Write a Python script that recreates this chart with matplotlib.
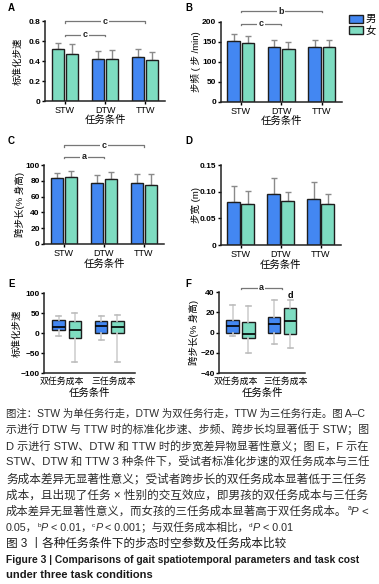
import numpy as np
import matplotlib
matplotlib.use("Agg")
from matplotlib import pyplot as plt
from matplotlib.transforms import IdentityTransform, ScaledTranslation

plt.rcParams['font.family'] = ['Liberation Sans', 'Noto Sans CJK SC', 'DejaVu Sans']

# ---- data ----
conds = ["STW", "DTW", "TTW"]
speed_m = [0.52, 0.42, 0.44]
speed_m_sd = [0.06, 0.08, 0.085]
speed_f = [0.47, 0.42, 0.41]
speed_f_sd = [0.10, 0.095, 0.085]

cad_m = [152, 137, 137]
cad_m_sd = [18, 19, 18]
cad_f = [147, 132, 137]
cad_f_sd = [19, 18, 19]

stride_m = [84, 77, 77]
stride_m_sd = [6, 10, 12]
stride_f = [85, 82, 75]
stride_f_sd = [8, 9, 13]

width_m = [0.081, 0.095, 0.087]
width_m_sd = [0.030, 0.030, 0.031]
width_f = [0.076, 0.082, 0.077]
width_f_sd = [0.026, 0.018, 0.019]

cost_cats = ["双任务成本", "三任务成本"]
# box stats: whislo, q1, med, q3, whishi
e_m = [[-8, 7, 16, 32, 43], [-18, 0, 17, 30, 43]]
e_f = [[-72, -12, 8, 30, 50], [-72, 0, 14, 30, 46]]
f_m = [[-3, 0, 6, 12, 27], [-11, 0, 8, 15, 32]]
f_f = [[-20, -5, -1, 10, 26], [-15, -1, 11, 24, 32]]

BLUE = "#4387f2"
GREEN = "#7edcc1"
EDGE = "#1e1e1e"
W, H = 379, 584

fig = plt.figure(figsize=(W / 100, H / 100), dpi=100)


def add_ax(left, top, w, h):
    return fig.add_axes([left / W, 1 - (top + h) / H, w / W, h / H])


def style(ax, w, h, ylab, ylab_dx, xlab_dy):
    for s in ["top", "right"]:
        ax.spines[s].set_visible(False)
    for s in ["left", "bottom"]:
        ax.spines[s].set_linewidth(1.1)
        ax.spines[s].set_color("#222222")
    ax.tick_params(axis="y", length=2, width=1, pad=1, labelsize=6)
    ax.tick_params(axis="x", length=2, width=1, pad=1.5, labelsize=6.5)
    for t in ax.get_yticklabels():
        t.set_fontweight("bold")
    ax.set_ylabel(ylab, fontsize=6.8)
    ax.yaxis.set_label_coords(-ylab_dx / w, 0.5)
    ax.set_xlabel("任务条件", fontsize=7.5)
    ax.xaxis.set_label_coords(0.5, -xlab_dy / h)


def bars(ax, m, msd, f, fsd, first_color=None):
    x = np.arange(len(conds))
    cm = [BLUE] * len(conds)
    if first_color:
        cm[0] = first_color
    bm = ax.bar(x - 0.175, m, 0.31, color=cm, edgecolor=EDGE, linewidth=1, zorder=2)
    bf = ax.bar(x + 0.175, f, 0.31, color=GREEN, edgecolor=EDGE, linewidth=1, zorder=2)
    ax.errorbar(x - 0.175, m, yerr=[np.zeros(3), msd], fmt="none", ecolor="#8a8a8a",
                elinewidth=1, capsize=2.5, capthick=1, zorder=1)
    ax.errorbar(x + 0.175, f, yerr=[np.zeros(3), fsd], fmt="none", ecolor="#8a8a8a",
                elinewidth=1, capsize=2.5, capthick=1, zorder=1)
    ax.set_xticks(x)
    ax.set_xticklabels(conds)
    ax.set_xlim(-0.5, 2.5)
    return bm, bf


def bracket(ax, x1, x2, y, tick, label):
    ax.plot([x1, x1, x2, x2], [y - tick, y, y, y - tick], color="#777777", lw=0.9,
            clip_on=False)
    ax.text((x1 + x2) / 2, y, label, ha="center", va="center", fontsize=6.5,
            fontweight="bold", color="#222222",
            bbox=dict(boxstyle="square,pad=0.15", fc="white", ec="none"))


def boxes(ax, m, f):
    pos = np.arange(len(cost_cats))
    for stats, off, col in [(m, -0.19, BLUE), (f, 0.19, GREEN)]:
        st = [dict(whislo=s[0], q1=s[1], med=s[2], q3=s[3], whishi=s[4], fliers=[])
              for s in stats]
        ax.bxp(st, positions=pos + off, widths=0.3, patch_artist=True, showfliers=False,
               boxprops=dict(facecolor=col, edgecolor=EDGE, linewidth=1),
               medianprops=dict(color="black", linewidth=1.2),
               whiskerprops=dict(color="#cfcfcf", linewidth=1.2),
               capprops=dict(color="#bdbdbd", linewidth=1.2),
               capwidths=0.12, manage_ticks=False)
    ax.set_xticks(pos)
    ax.set_xticklabels(cost_cats)


# A
axA = add_ax(45, 21, 120, 80)
bars(axA, speed_m, speed_m_sd, speed_f, speed_f_sd, first_color=GREEN)
axA.set_ylim(0, 0.8)
axA.set_yticks([0, 0.2, 0.4, 0.6, 0.8])
axA.set_yticklabels(["0", "0.2", "0.4", "0.6", "0.8"])
style(axA, 120, 80, "标准化步速", 22, 14)
bracket(axA, 0, 2, 0.8, 0.015, "c")
bracket(axA, 0, 1, 0.665, 0.015, "c")

# B
axB = add_ax(220.5, 22, 121.5, 80)
bmB, bfB = bars(axB, cad_m, cad_m_sd, cad_f, cad_f_sd)
axB.set_ylim(0, 200)
axB.set_yticks([0, 50, 100, 150, 200])
style(axB, 121.5, 80, "步频 ( 步 /min)", 20, 14)
bracket(axB, 0, 2, 227, 3, "b")
bracket(axB, 0, 1, 196, 3, "c")
axB.legend([bmB, bfB], ["男", "女"], loc="upper left", bbox_to_anchor=(344 / W, 1 - 9 / H),
           bbox_transform=fig.transFigure, frameon=False, fontsize=7.5,
           handlelength=1.3, handleheight=0.8, borderpad=0, labelspacing=0.15,
           handletextpad=0.3)

# C
axC = add_ax(44, 165, 120, 79)
bars(axC, stride_m, stride_m_sd, stride_f, stride_f_sd)
axC.set_ylim(0, 100)
axC.set_yticks([0, 20, 40, 60, 80, 100])
style(axC, 120, 79, "跨步长(% 身高)", 19, 15)
bracket(axC, 0, 2, 125, 2, "c")
bracket(axC, 0, 1, 110.5, 2, "a")

# D
axD = add_ax(220.5, 165, 120, 80)
bars(axD, width_m, width_m_sd, width_f, width_f_sd)
axD.set_ylim(0, 0.15)
axD.set_yticks([0, 0.05, 0.10, 0.15])
axD.set_yticklabels(["0", "0.05", "0.10", "0.15"])
style(axD, 120, 80, "步宽 (m)", 20, 15)

# E
axE = add_ax(44, 293, 91, 80)
boxes(axE, e_m, e_f)
axE.set_xlim(-0.54, 1.61)
axE.set_ylim(-100, 100)
axE.set_yticks([-100, -50, 0, 50, 100])
style(axE, 91, 80, "标准化步速", 22, 15)

# F
axF = add_ax(219, 292, 86, 81)
boxes(axF, f_m, f_f)
axF.set_xlim(-0.52, 1.55)
axF.set_ylim(-40, 40)
axF.set_yticks([-40, -20, 0, 20, 40])
style(axF, 86, 81, "跨步长(% 身高)", 20, 15)
bracket(axF, 0, 1, 44, 1.2, "a")
axF.text(1.19, 37, "d", ha="center", va="center", fontsize=6.5, fontweight="bold")

for ax in (axE, axF):
    ax.tick_params(axis="x", labelsize=6.4, length=0, pad=3)
    labs = ax.get_xticklabels()
    for t, dx in zip(labs, [-5, 4]):
        t.set_transform(t.get_transform() + ScaledTranslation(dx / 100, 0, fig.dpi_scale_trans))

# panel letters
for lab, x, y in [("A", 8, 8), ("B", 185, 8), ("C", 8, 141), ("D", 185, 141),
                  ("E", 8, 284), ("F", 185, 284)]:
    fig.text(x / W, 1 - y / H, lab, fontsize=7, fontweight="bold", va="center")

# ---- caption ----
renderer = fig.canvas.get_renderer()
TXT = "#2b2b2b"
sup = dict(size=0.6, dy=0.42)
ital = dict(style="italic")


def put_line(base, segs, size, maxw=None, color=TXT, weight="normal", x0=6):
    for k in range(5):
        x = x0
        arts = []
        for s, kw in segs:
            fs = size * kw.get("size", 1)
            dy = kw.get("dy", 0) * size * 100 / 72
            t = fig.text(x, H - base + dy, s, transform=IdentityTransform(),
                         fontsize=fs, color=color, fontweight=weight,
                         fontstyle=kw.get("style", "normal"), va="baseline", ha="left")
            arts.append(t)
            x += t.get_window_extent(renderer).width
        if maxw is None or x - x0 <= maxw or k == 4:
            return
        for t in arts:
            t.remove()
        size = size * maxw / (x - x0) * 0.995


lines = [
    "图注：STW 为单任务行走，DTW 为双任务行走，TTW 为三任务行走。图 A–C",
    "示进行 DTW 与 TTW 时的标准化步速、步频、跨步长均显著低于 STW；图",
    "D 示进行 STW、DTW 和 TTW 时的步宽差异物显著性意义；图 E，F 示在",
    "STW、DTW 和 TTW 3 种条件下，受试者标准化步速的双任务成本与三任",
    "务成本差异无显著性意义；受试者跨步长的双任务成本显著低于三任务",
    "成本，且出现了任务 × 性别的交互效应，即男孩的双任务成本与三任务",
]
base0 = 417
step = 16.3
for i, s in enumerate(lines):
    put_line(base0 + i * step, [(s, {})], 9, maxw=364)

put_line(base0 + 6 * step,
         [("成本差异无显著性意义，而女孩的三任务成本显著高于双任务成本。", {}),
          ("a", sup), ("P", ital), (" <", {})], 9, maxw=364)
put_line(base0 + 7 * step,
         [("0.05，", {}), ("b", sup), ("P", ital), (" < 0.01，", {}),
          ("c", sup), ("P", ital), (" < 0.001；与双任务成本相比，", {}),
          ("d", sup), ("P", ital), (" < 0.01", {})], 9, maxw=290)
put_line(547, [("图 3 丨各种任务条件下的步态时空参数及任务成本比较", {})], 9, maxw=282,
         color="#1a1a1a")
put_line(563, [("Figure 3 | Comparisons of gait spatiotemporal parameters and task cost", {})],
         8, maxw=354, color="#1a1a1a", weight="bold")
put_line(578, [("under three task conditions", {})], 8, maxw=354, color="#1a1a1a",
         weight="bold")

fig.savefig("out.png", dpi=100)
